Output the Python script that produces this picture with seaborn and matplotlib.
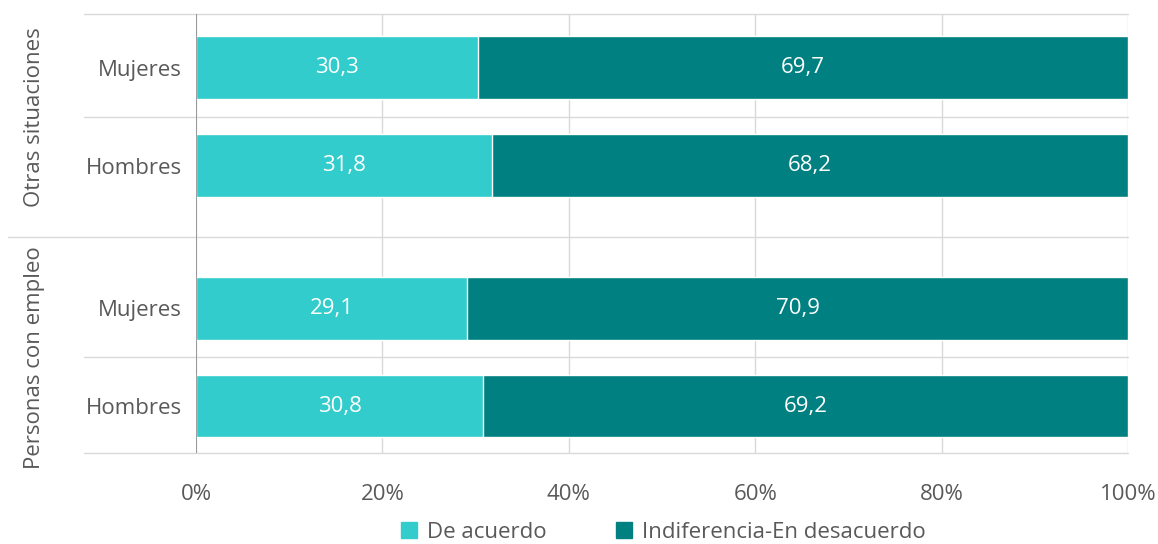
import numpy as np
import pandas as pd
import matplotlib
matplotlib.use("Agg")
import matplotlib.pyplot as plt
from matplotlib.lines import Line2D
import seaborn as sns

# datos
grupos = ["Otras situaciones", "Otras situaciones",
          "Personas con empleo", "Personas con empleo"]
sexo = ["Mujeres", "Hombres", "Mujeres", "Hombres"]
de_acuerdo = [30.3, 31.8, 29.1, 30.8]
desacuerdo = [69.7, 68.2, 70.9, 69.2]

series = ["De acuerdo", "Indiferencia-En desacuerdo"]
colores = ["#33CCCC", "#008080"]
gris_texto = "#595959"
fs = 16

# posiciones: un hueco extra entre grupos
orden_grupos = list(dict.fromkeys(grupos))
pos = [i + 0.46 * orden_grupos.index(g) for i, g in enumerate(grupos)]

df = pd.DataFrame({
    "grupo": grupos, "sexo": sexo, "pos": pos,
    "acuerdo": de_acuerdo, "desacuerdo": desacuerdo,
})
df["total"] = df["acuerdo"] + df["desacuerdo"]

sns.set_style("white")
plt.rcParams["font.family"] = ["Open Sans", "DejaVu Sans"]

fig = plt.figure(figsize=(11.58, 5.44), dpi=100)
ax = fig.add_axes([196 / 1158, 91 / 544, 932 / 1158, 439 / 544])

sns.barplot(data=df, x="total", y="pos", orient="h", native_scale=True,
            color=colores[1], width=0.64, saturation=1,
            edgecolor="white", linewidth=1, ax=ax)
sns.barplot(data=df, x="acuerdo", y="pos", orient="h", native_scale=True,
            color=colores[0], width=0.64, saturation=1,
            edgecolor="white", linewidth=1, ax=ax)

for _, r in df.iterrows():
    ax.text(r.acuerdo / 2, r.pos, f"{r.acuerdo:.1f}".replace(".", ","),
            color="white", fontsize=fs, ha="center", va="center")
    ax.text(r.acuerdo + r.desacuerdo / 2, r.pos,
            f"{r.desacuerdo:.1f}".replace(".", ","),
            color="white", fontsize=fs, ha="center", va="center")

ax.set_xlim(0, 100)
ax.set_ylim(3.94, -0.55)
ax.set_xticks(np.arange(0, 101, 20))
ax.set_xticklabels([f"{v}%" for v in range(0, 101, 20)])
ax.set_yticks(df["pos"])
ax.set_yticklabels(df["sexo"])
ax.tick_params(axis="x", length=0, pad=22, labelsize=fs, labelcolor=gris_texto)
ax.tick_params(axis="y", length=0, pad=10, labelsize=fs, labelcolor=gris_texto)
ax.set_xlabel("")
ax.set_ylabel("")

for s in ax.spines.values():
    s.set_visible(False)

ax.set_axisbelow(True)
ax.xaxis.grid(True, color="#d9d9d9", linewidth=1)
ax.yaxis.grid(False)
ax.axvline(0, color="#8c8c8c", linewidth=1.2, zorder=3)

# lineas horizontales de separacion
ytr = ax.get_yaxis_transform()
lim_sup, lim_inf = -0.55, 3.94
limites = [lim_sup]
for a, b in zip(pos[:-1], pos[1:]):
    limites.append((a + b) / 2)
limites.append(lim_inf)
for i, y in enumerate(limites):
    cambio = 0 < i < len(limites) - 1 and grupos[i - 1] != grupos[i]
    x0 = -0.202 if cambio else -0.12
    ax.plot([x0, 1], [y, y], transform=ytr, color="#d9d9d9",
            linewidth=1, clip_on=False, zorder=0)

# etiquetas de grupo
for g in orden_grupos:
    centro = np.mean([p for p, gg in zip(pos, grupos) if gg == g])
    ax.text(-0.173, centro, g, transform=ytr, rotation=90,
            ha="center", va="center", fontsize=fs, color=gris_texto)

handles = [Line2D([0], [0], marker="s", linestyle="", markersize=12,
                  markerfacecolor=c, markeredgecolor=c) for c in colores]
fig.legend(handles, series, loc="center", bbox_to_anchor=(662 / 1158, 12 / 544),
           ncol=2, frameon=False, fontsize=fs, labelcolor=gris_texto,
           handletextpad=0.3, columnspacing=3.0, handlelength=1)

fig.savefig("out.png", dpi=100)
